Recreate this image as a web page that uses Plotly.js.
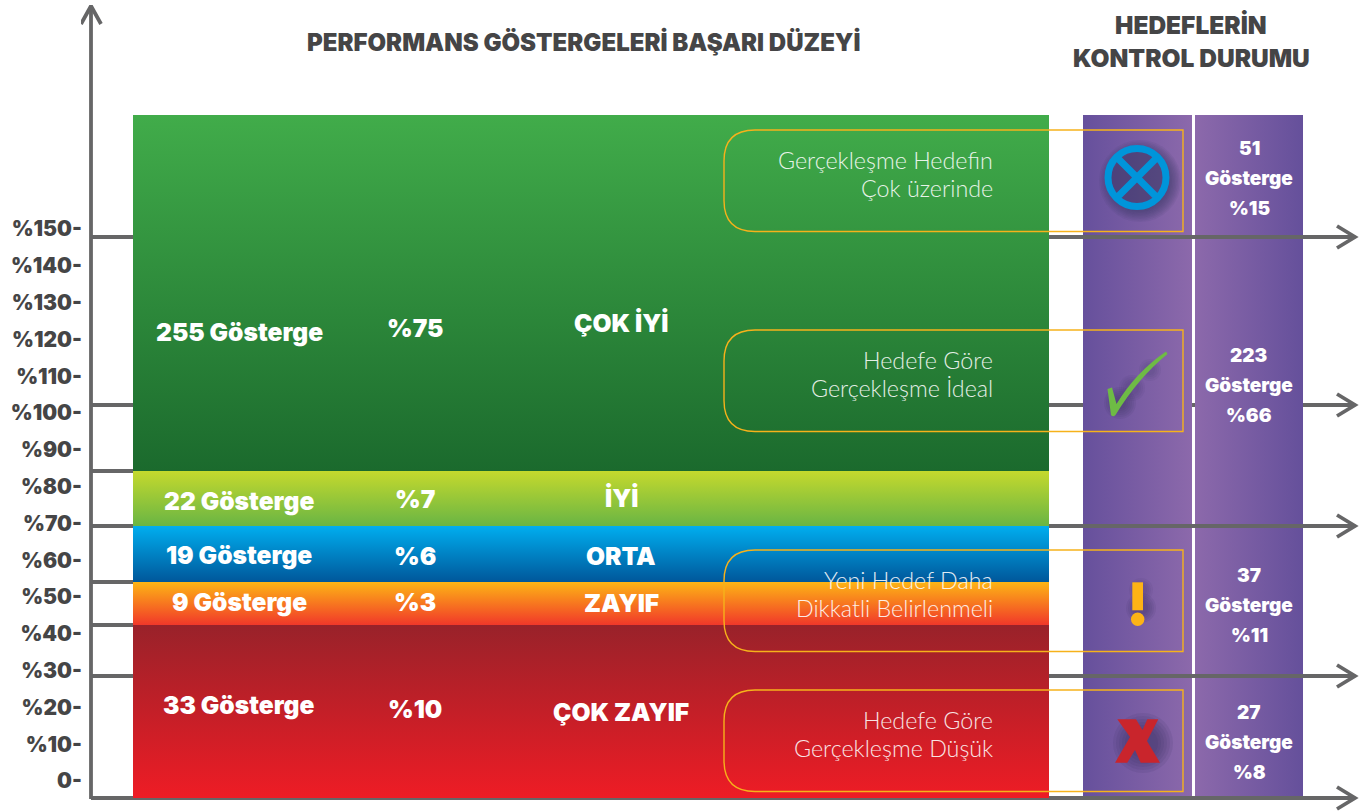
<!DOCTYPE html>
<html><head><meta charset="utf-8">
<script src="https://cdn.plot.ly/plotly-3.0.1.min.js"></script>
<style>html,body{margin:0;padding:0;background:#fff;overflow:hidden}#c{width:1364px;height:811px}</style>
</head><body><div id="c"></div>
<script>
// ---- data ----
const bandNames  = ['ÇOK İYİ','İYİ','ORTA','ZAYIF','ÇOK ZAYIF'];
const bandCounts = [255,22,19,9,33];
const bandShares = [75,7,6,3,10];
const statusCounts = [51,223,37,27];
const statusShares = [15,66,11,8];
const boxNotes = [['Gerçekleşme Hedefin','Çok üzerinde'],['Hedefe Göre','Gerçekleşme İdeal'],['Yeni Hedef Daha','Dikkatli Belirlenmeli'],['Hedefe Göre','Gerçekleşme Düşük']];
const tickValues = [0,10,20,30,40,50,60,70,80,90,100,110,120,130,140,150];
const tickLabels = tickValues.map(v => v === 0 ? '0-' : '%' + v + '-');

// ---- layout helpers (axis is scaled in percent, x axis in page pixels) ----
const Y = px => (781 - px) / 3.68;
const bandEdges = [[115,471],[471,526],[526,582],[582,625],[625,798]];
const bandColors = [['#41ac4a','#1b6a2d'],['#c5d92d','#69b544'],['#00aeef','#00579a'],['#fdb515','#f1382a'],['#99222a','#ee1c25']];
const bandTextY = [[332,328,323],[501,499,498],[555,556,556],[602,602,603],[705,709,712]];
const statusTextY = [[148,178,208],[355,385,415],[575,605,635],[712,742,772]];
const boxTops = [130,330,550,690];
const boxLineY = [[160,188],[360,388],[580,608],[720,748]];
const GREY = '#666667', DARK = '#454546';
const HEAD = 'Inter, "Open Sans", sans-serif';

const rect = (x0,x1,t,b,grad,name) => ({type:'scatter',mode:'lines',x:[x0,x1,x1,x0,x0],y:[Y(t),Y(t),Y(b),Y(b),Y(t)],
  fill:'toself',line:{width:0},fillgradient:grad,hoverinfo:'skip',showlegend:false,name});
const vert = (top,bot) => ({type:'vertical',colorscale:[[0,bot],[1,top]]});
const horiz = (l,r) => ({type:'horizontal',colorscale:[[0,l],[1,r]]});
const ln = (xs,ys) => ({type:'scatter',mode:'lines',x:xs,y:ys.map(Y),line:{color:GREY,width:3.8},hoverinfo:'skip',showlegend:false});
const arrowH = py => [ln([1049,1355],[py,py]), ln([1337,1355,1337],[py-11,py,py+11])];

const traces = [];
// line that passes behind the panels
traces.push(ln([91,1355],[405,405]), ln([1337,1355,1337],[394,405,416]));
// panels
traces.push(rect(1083,1192,115,796,horiz('#66509c','#8c69ab'),'panel1'));
traces.push(rect(1195,1303,115,796,horiz('#8c69ab','#65509b'),'panel2'));
// lines over the panels
[237,526,676,798].forEach(py => { traces.push(ln([91,1049],[py,py])); traces.push(...arrowH(py)); });
[471,582,625].forEach(py => traces.push(ln([91,133],[py,py])));
// y axis + head
traces.push(ln([91,91],[799,6]), ln([81,91,101],[24,6,24]));
// bands
bandEdges.forEach((e,i) => traces.push(rect(133,1049,e[0],e[1],vert(bandColors[i][0],bandColors[i][1]),bandNames[i])));
// icon shadows
const shadow = (cx,cy,sizes,op) => ({type:'scatter',mode:'markers',x:sizes.map(()=>cx),y:sizes.map(()=>Y(cy)),
  marker:{symbol:'circle',size:sizes,color:'#3c3560',opacity:op,line:{width:0}},hoverinfo:'skip',showlegend:false});
traces.push(shadow(1140,181,[82,79,76,73,70,67,64,61,58],0.09));
traces.push(shadow(1120,403,[32,28,24,20,16,12],0.11));
traces.push(shadow(1132,388,[26,22,18,14],0.08));
traces.push(shadow(1150,370,[22,18,14,10],0.07));
traces.push(shadow(1141,608,[30,26,22,18,14],0.10));
traces.push(shadow(1141,590,[24,20,16,12],0.08));
traces.push(shadow(1143,743,[60,54,48,42,36,30],0.12));
// circled cross icon
traces.push({type:'scatter',mode:'markers',x:[1137],y:[Y(177.5)],
  marker:{symbol:'circle-x-open',size:58,color:'#0095da',line:{color:'#0095da',width:7}},hoverinfo:'skip',showlegend:false});

// shapes
const P = (x,y) => x + ',' + Y(y);
const shapes = [];
boxTops.forEach(t => {
  const b = t + 101.5, l = 724, r = 1183, k = 31;
  shapes.push({type:'path',xref:'x',yref:'y',line:{color:'#f6b21b',width:1.4},fillcolor:'rgba(0,0,0,0)',
    path:`M${P(r,t)} L${P(l+k,t)} Q${P(l,t)} ${P(l,t+k)} L${P(l,b-k)} Q${P(l,b)} ${P(l+k,b)} L${P(r,b)} Z`});
});
// check
shapes.push({type:'path',xref:'x',yref:'y',fillcolor:'#6ebb45',line:{width:0},
  path:`M${P(1107.5,389)} L${P(1112,387.5)} L${P(1116.5,404)} Q${P(1136,372)} ${P(1166,351.5)} L${P(1167.5,354)} Q${P(1138,378)} ${P(1115.5,415)} Q${P(1113,417.5)} ${P(1111,415)} Z`});
// exclamation
shapes.push({type:'rect',xref:'x',yref:'y',x0:1132.3,x1:1143,y0:Y(610.3),y1:Y(582.3),fillcolor:'#fdb316',line:{width:0}});
shapes.push({type:'circle',xref:'x',yref:'y',x0:1131,x1:1144.4,y0:Y(626),y1:Y(612.6),fillcolor:'#fdb316',line:{width:0}});
// X
shapes.push({type:'path',xref:'x',yref:'y',fillcolor:'#c9252c',line:{width:0},
  path:`M${P(1117.3,719.3)} L${P(1136,719.3)} L${P(1142.5,730)} L${P(1147.3,719.3)} L${P(1158.3,719.3)} L${P(1147,741)} L${P(1160,762.7)} L${P(1140.7,762.7)} L${P(1135,750)} L${P(1127.3,762.7)} L${P(1115,762.7)} L${P(1130,737)} Z`});

// annotations
const ann = [];
const T = (text,x,py,size,color,weight,family,anchor,opacity) => ann.push({text,x,y:Y(py),xref:'x',yref:'y',showarrow:false,
  xanchor:anchor||'center',yanchor:'middle',opacity:opacity||1,font:{size,color,weight,family:family||HEAD}});
T('PERFORMANS GÖSTERGELERİ BAŞARI DÜZEYİ',583,42,24,DARK,900);
T('HEDEFLERİN',1191,25,24.5,DARK,900);
T('KONTROL DURUMU',1191,58,24.5,DARK,900);
bandNames.forEach((n,i) => {
  T(bandCounts[i]+' Gösterge',239,bandTextY[i][0],24.6,'#fff',900);
  T('%'+bandShares[i],415,bandTextY[i][1],24.6,'#fff',900);
  T(n,621,bandTextY[i][2],24.6,'#fff',900);
});
statusCounts.forEach((c,i) => {
  T(String(c),1249,statusTextY[i][0],19,'#fff',900);
  T('Gösterge',1249,statusTextY[i][1],19,'#fff',900);
  T('%'+statusShares[i],1249,statusTextY[i][2],19,'#fff',900);
});
boxNotes.forEach((lines,i) => lines.forEach((t,j) => T(t,995,boxLineY[i][j],23.3,'#ffffff',300,'Lato, sans-serif','right',0.88)));

const layout = {
  width:1364,height:811,margin:{l:81,r:0,t:0,b:0,pad:0},paper_bgcolor:'#fff',plot_bgcolor:'rgba(0,0,0,0)',showlegend:false,
  xaxis:{range:[81,1364],visible:false,fixedrange:true},
  yaxis:{range:[Y(811),Y(0)],tickmode:'array',tickvals:tickValues,ticktext:tickLabels,showgrid:false,zeroline:false,showline:false,ticks:'',
    ticklabelstandoff:-2,fixedrange:true,tickfont:{size:21,color:DARK,weight:900,family:HEAD}},
  shapes,annotations:ann
};
Plotly.newPlot('c',traces,layout,{displayModeBar:false,staticPlot:true});
</script></body></html>
